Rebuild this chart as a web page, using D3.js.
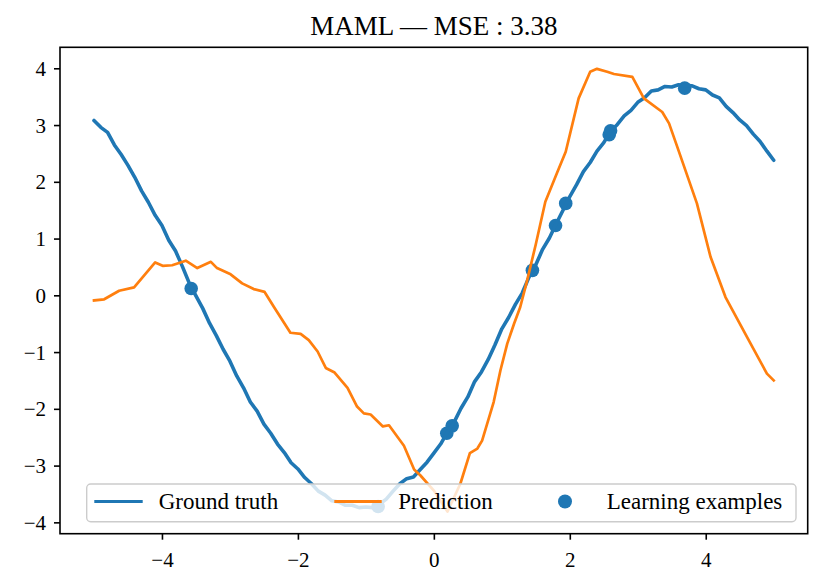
<!DOCTYPE html>
<html>
<head>
<meta charset="utf-8">
<script src="https://cdn.jsdelivr.net/npm/d3@7"></script>
<style>
  html, body { margin: 0; padding: 0; background: #fff; }
  svg { display: block; }
  text { font-family: "Liberation Serif", "DejaVu Serif", serif; fill: #000; }
</style>
</head>
<body>
<svg id="chart"></svg>
<script>
// MAML sine regression — ground truth vs prediction
const chartTitle = 'MAML \u2014 MSE : 3.38';

const gtX = [-5.0, -4.9, -4.8, -4.7, -4.6, -4.5, -4.4, -4.3, -4.2, -4.1,
    -4.0, -3.9, -3.8, -3.7, -3.6, -3.5, -3.4, -3.3, -3.2, -3.1,
    -3.0, -2.9, -2.8, -2.7, -2.6, -2.5, -2.4, -2.3, -2.2, -2.1,
    -2.0, -1.9, -1.8, -1.7, -1.6, -1.5, -1.4, -1.3, -1.2, -1.1,
    -1.0, -0.9, -0.8, -0.7, -0.6, -0.5, -0.4, -0.3, -0.2, -0.1,
    0.0, 0.1, 0.2, 0.3, 0.4, 0.5, 0.6, 0.7, 0.8, 0.9,
    1.0, 1.1, 1.2, 1.3, 1.4, 1.5, 1.6, 1.7, 1.8, 1.9,
    2.0, 2.1, 2.2, 2.3, 2.4, 2.5, 2.6, 2.7, 2.8, 2.9,
    3.0, 3.1, 3.2, 3.3, 3.4, 3.5, 3.6, 3.7, 3.8, 3.9,
    4.0, 4.1, 4.2, 4.3, 4.4, 4.5, 4.6, 4.7, 4.8, 4.9, 5.0];
const gtY = [3.08, 2.96, 2.87, 2.65, 2.48, 2.29, 2.08, 1.84, 1.64, 1.41,
    1.23, 0.97, 0.78, 0.51, 0.22, -0.01, -0.23, -0.49, -0.71, -0.95,
    -1.16, -1.42, -1.63, -1.88, -2.04, -2.27, -2.43, -2.62, -2.77, -2.95,
    -3.06, -3.21, -3.32, -3.45, -3.52, -3.62, -3.64, -3.70, -3.70, -3.74,
    -3.73, -3.74, -3.68, -3.59, -3.45, -3.32, -3.23, -3.20, -3.07, -2.94,
    -2.78, -2.62, -2.41, -2.23, -1.99, -1.79, -1.52, -1.35, -1.13, -0.87,
    -0.59, -0.39, -0.16, 0.04, 0.32, 0.54, 0.81, 1.01, 1.26, 1.50,
    1.74, 1.95, 2.18, 2.34, 2.54, 2.69, 2.89, 3.01, 3.16, 3.26,
    3.40, 3.48, 3.60, 3.62, 3.68, 3.67, 3.71, 3.69, 3.69, 3.64,
    3.62, 3.53, 3.48, 3.33, 3.22, 3.09, 2.99, 2.84, 2.71, 2.54, 2.38];

const predX = [-5.0, -4.85, -4.63, -4.41, -4.10, -3.99, -3.85, -3.65, -3.48, -3.28,
    -3.19, -2.99, -2.82, -2.65, -2.49, -2.35, -2.11, -1.96, -1.84, -1.71,
    -1.59, -1.46, -1.27, -1.13, -1.03, -0.93, -0.75, -0.66, -0.44, -0.29,
    -0.20, 0.0, 0.20, 0.39, 0.53, 0.64, 0.71, 0.88, 0.98, 1.08,
    1.18, 1.27, 1.37, 1.50, 1.64, 1.81, 1.94, 2.13, 2.30, 2.40,
    2.55, 2.65, 2.92, 3.09, 3.36, 3.46, 3.58, 3.87, 4.07, 4.29,
    4.61, 4.90, 5.0];
const predY = [-0.09, -0.07, 0.08, 0.14, 0.58, 0.52, 0.53, 0.61, 0.48, 0.59,
    0.48, 0.37, 0.21, 0.11, 0.06, -0.21, -0.66, -0.68, -0.79, -0.99,
    -1.28, -1.36, -1.63, -1.96, -2.08, -2.10, -2.31, -2.29, -2.65, -3.07,
    -3.17, -3.44, -3.81, -3.32, -2.78, -2.70, -2.56, -1.88, -1.32, -0.85,
    -0.50, -0.21, 0.25, 0.90, 1.65, 2.15, 2.53, 3.47, 3.94, 3.99,
    3.94, 3.90, 3.85, 3.47, 3.23, 3.03, 2.62, 1.62, 0.68, -0.03,
    -0.74, -1.38, -1.50];

const exampleX = [-3.57, -0.82, 0.19, 0.27, 1.45, 1.79, 1.94, 2.58, 2.60, 3.69];
const exampleY = [0.12, -3.72, -2.43, -2.30, 0.44, 1.23, 1.62, 2.83, 2.90, 3.65];

const xTicks = [-4, -2, 0, 2, 4];
const yTicks = [-4, -3, -2, -1, 0, 1, 2, 3, 4];
const legendLabels = ['Ground truth', 'Prediction', 'Learning examples'];

(function() {
    const W = 831, H = 585;
    const left = 60, right = 807.7, top = 47.3, bottom = 533.7;
    const blue = '#1f77b4', orange = '#ff7f0e';

    const svg = d3.select('#chart').attr('width', W).attr('height', H);

    const x = d3.scaleLinear().domain([-5.5, 5.5]).range([left, right]);
    const y = d3.scaleLinear().domain([-4.2, 4.37]).range([bottom, top]);

    svg.append('defs').append('clipPath').attr('id', 'plot-clip')
        .append('rect')
        .attr('x', left).attr('y', top)
        .attr('width', right - left).attr('height', bottom - top);

    const plot = svg.append('g').attr('clip-path', 'url(#plot-clip)');

    // scatter sits under the lines, as in matplotlib
    plot.selectAll('.example').data(exampleX).enter().append('circle')
        .attr('class', 'example')
        .attr('cx', d => x(d))
        .attr('cy', (d, i) => y(exampleY[i]))
        .attr('r', 6.8)
        .attr('fill', blue);

    const line = d3.line().x(d => x(d[0])).y(d => y(d[1]));

    plot.append('path')
        .datum(gtX.map((v, i) => [v, gtY[i]]))
        .attr('d', line)
        .attr('fill', 'none')
        .attr('stroke', blue)
        .attr('stroke-width', 3.6)
        .attr('stroke-linejoin', 'round')
        .attr('stroke-linecap', 'round');

    plot.append('path')
        .datum(predX.map((v, i) => [v, predY[i]]))
        .attr('d', line)
        .attr('fill', 'none')
        .attr('stroke', orange)
        .attr('stroke-width', 2.7)
        .attr('stroke-linejoin', 'round')
        .attr('stroke-linecap', 'square');

    // axes
    const fmt = d => d < 0 ? '\u2212' + Math.abs(d) : String(d);

    const xAxis = svg.append('g')
        .attr('transform', 'translate(0,' + bottom + ')')
        .call(d3.axisBottom(x).tickValues(xTicks).tickFormat(fmt).tickSize(6).tickPadding(7));
    const yAxis = svg.append('g')
        .attr('transform', 'translate(' + left + ',0)')
        .call(d3.axisLeft(y).tickValues(yTicks).tickFormat(fmt).tickSize(6).tickPadding(8));

    [xAxis, yAxis].forEach(a => {
        a.select('.domain').remove();
        a.selectAll('.tick line').attr('stroke', '#000').attr('stroke-width', 1.6);
        a.selectAll('.tick text')
            .style('font-family', '"Liberation Serif", serif')
            .style('font-size', '21px')
            .attr('fill', '#000');
    });
    xAxis.selectAll('.tick text').attr('dy', '0.95em');
    yAxis.selectAll('.tick text').attr('dy', '0.34em');

    svg.append('rect')
        .attr('x', left).attr('y', top)
        .attr('width', right - left).attr('height', bottom - top)
        .attr('fill', 'none')
        .attr('stroke', '#000')
        .attr('stroke-width', 1.6);

    svg.append('text')
        .attr('x', (left + right) / 2)
        .attr('y', 35)
        .attr('text-anchor', 'middle')
        .style('font-size', '27px')
        .text(chartTitle);

    // legend, three columns along the bottom
    const lg = svg.append('g');
    lg.append('rect')
        .attr('x', 86.7).attr('y', 484)
        .attr('width', 796 - 86.7).attr('height', 521.7 - 484)
        .attr('rx', 4)
        .attr('fill', '#fff').attr('fill-opacity', 0.8)
        .attr('stroke', '#cccccc').attr('stroke-width', 1.4);

    const rowY = 501.5;
    const handles = [
        { x0: 94.3, x1: 142.7, tx: 158.7, color: blue, kind: 'line' },
        { x0: 334.3, x1: 381.7, tx: 398.3, color: orange, kind: 'line' },
        { x0: 565, x1: 565, tx: 606.7, color: blue, kind: 'dot' }
    ];
    handles.forEach((h, i) => {
        if (h.kind === 'line') {
            lg.append('line')
                .attr('x1', h.x0).attr('x2', h.x1)
                .attr('y1', rowY).attr('y2', rowY)
                .attr('stroke', h.color).attr('stroke-width', 2.8);
        } else {
            lg.append('circle')
                .attr('cx', h.x0).attr('cy', rowY).attr('r', 7)
                .attr('fill', h.color);
        }
        lg.append('text')
            .attr('x', h.tx).attr('y', rowY + 7.5)
            .style('font-size', '23px')
            .text(legendLabels[i]);
    });
})();
</script>
</body>
</html>
